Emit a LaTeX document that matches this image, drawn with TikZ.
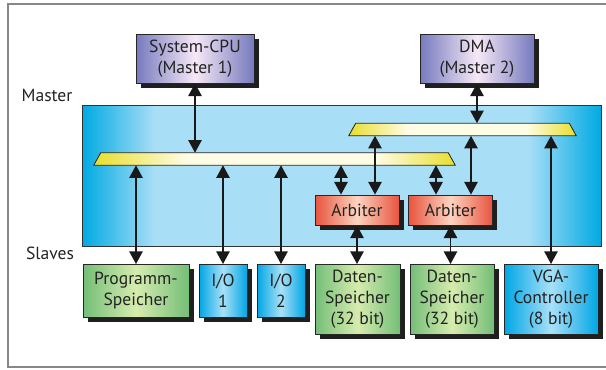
\documentclass[tikz,border=0pt]{standalone}
\usepackage{fontspec}
\setmainfont{PT Sans}
\usepackage{xcolor}
\definecolor{txtgray}{RGB}{35,35,35}
\definecolor{framegray}{RGB}{135,135,135}
\definecolor{panelblue}{RGB}{0,170,226}
\definecolor{panellight}{RGB}{168,222,246}
\definecolor{cpuedge}{RGB}{118,122,190}
\definecolor{cpumid}{RGB}{246,232,246}
\definecolor{memedge}{RGB}{116,190,120}
\definecolor{memmid}{RGB}{214,236,174}
\definecolor{ioedge}{RGB}{0,166,228}
\definecolor{iomid}{RGB}{168,224,248}
\definecolor{arbedge}{RGB}{232,84,62}
\definecolor{arbmid}{RGB}{252,212,192}
\definecolor{busedge}{RGB}{232,222,45}
\definecolor{busmid}{RGB}{255,252,230}
\usepackage{tikz}
\usetikzlibrary{arrows.meta, positioning}

\pgfdeclarehorizontalshading{panelshade}{100bp}{color(0bp)=(panelblue); color(25bp)=(panelblue); color(32bp)=(panellight); color(68bp)=(panellight); color(75bp)=(panelblue); color(100bp)=(panelblue)}
\pgfdeclarehorizontalshading{busshade}{100bp}{color(0bp)=(busedge); color(25bp)=(busedge); color(38bp)=(busmid); color(64bp)=(busmid); color(75bp)=(busedge); color(100bp)=(busedge)}
\pgfdeclarehorizontalshading{cpushade}{100bp}{color(0bp)=(cpuedge); color(25bp)=(cpuedge); color(50bp)=(cpumid); color(75bp)=(cpuedge); color(100bp)=(cpuedge)}
\pgfdeclarehorizontalshading{memshade}{100bp}{color(0bp)=(memedge); color(25bp)=(memedge); color(50bp)=(memmid); color(75bp)=(memedge); color(100bp)=(memedge)}
\pgfdeclarehorizontalshading{ioshade}{100bp}{color(0bp)=(ioedge); color(25bp)=(ioedge); color(50bp)=(iomid); color(75bp)=(ioedge); color(100bp)=(ioedge)}
\pgfdeclarehorizontalshading{arbshade}{100bp}{color(0bp)=(arbedge); color(25bp)=(arbedge); color(50bp)=(arbmid); color(75bp)=(arbedge); color(100bp)=(arbedge)}

\tikzset{
  box/.style={draw=black!85, line width=0.6pt, align=center, text=txtgray,
    font=\fontsize{12.5}{15}\selectfont, inner sep=0pt, shade,
    preaction={fill=black!88, transform canvas={xshift=3.5pt, yshift=-3.5pt}}},
  masterbox/.style={box, shading=cpushade},
  membox/.style={box, shading=memshade},
  iobox/.style={box, shading=ioshade},
  arbbox/.style={box, shading=arbshade},
  bus/.style={rectangle, inner sep=0pt, minimum height=0.3cm},
  busbar/.style={shading=busshade, draw=black!85, line width=0.6pt},
  lbl/.style={text=txtgray, font=\fontsize{12.5}{14}\selectfont},
  link/.style={{Triangle[width=9.5pt,length=9pt]}-{Triangle[width=9.5pt,length=9pt]},
    line width=1.1pt, black!90},
}

\begin{document}
\begin{tikzpicture}
  \useasboundingbox (0,0) rectangle (15.15,9.225);
  % Frame (open to the right)
  \draw[framegray, line width=1pt] (15.15,9.125) -- (0.2,9.125) -- (0.2,0.05) -- (15.15,0.05);

  % Bus panel
  \shadedraw[shading=panelshade, draw=black!80, line width=0.6pt] (2.05,3.075) rectangle (15.025,6.6);
  \node[lbl] (master) at (1.175,6.85) {Master};
  \node[lbl] (slaves) at (1.25,2.9) {Slaves};

  % --- Masters ---
  \node[masterbox, minimum width=2.95cm, minimum height=1.225cm] (cpu) at (4.875,7.7625) {System-CPU\\(Master 1)};
  \node[masterbox, minimum width=2.85cm, minimum height=1.225cm] (dma) at (11.925,7.7625) {DMA\\(Master 2)};

  % --- Buses ---
  \node[bus, minimum width=9.025cm] (bus1) at (6.8625,5.25) {};
  \node[bus, minimum width=5.675cm] (bus2) at (11.5625,5.9875) {};
  \shadedraw[busbar] (bus1.south west) -- ([xshift=0.175cm]bus1.north west)
    -- ([xshift=-0.175cm]bus1.north east) -- (bus1.south east) -- cycle;
  \shadedraw[busbar] (bus2.south west) -- ([xshift=0.175cm]bus2.north west)
    -- ([xshift=-0.175cm]bus2.north east) -- (bus2.south east) -- cycle;

  % --- Arbiters ---
  \node[arbbox, minimum width=2.1cm, minimum height=0.75cm] (arb1) at (8.925,3.975) {Arbiter};
  \node[arbbox, minimum width=2.1cm, minimum height=0.75cm] (arb2) at (11.2625,3.975) {Arbiter};

  % --- Slaves ---
  \node[membox, anchor=north, minimum width=2.65cm, minimum height=1.325cm] (prog) at (3.4,2.625) {Programm-\\Speicher};
  \node[iobox, anchor=north, minimum width=1.2cm, minimum height=1.325cm] (io1) at (5.575,2.625) {I/O\\1};
  \node[iobox, anchor=north, minimum width=1.2cm, minimum height=1.325cm] (io2) at (7.025,2.625) {I/O\\2};
  \node[membox, anchor=north, minimum width=2.125cm, minimum height=1.75cm] (dat1) at (8.9375,2.625) {Daten-\\Speicher\\(32 bit)};
  \node[membox, anchor=north, minimum width=2.1cm, minimum height=1.75cm] (dat2) at (11.3,2.625) {Daten-\\Speicher\\(32 bit)};
  \node[iobox, anchor=north, minimum width=2.35cm, minimum height=1.75cm] (vga) at (13.775,2.625) {VGA-\\Controller\\(8 bit)};

  % arbiter ports
  \coordinate (a1l) at (8.525,0);
  \coordinate (a1r) at (9.375,0);
  \coordinate (a2l) at (10.9,0);
  \coordinate (a2r) at (11.775,0);

  % --- Connections ---
  \draw[link] (cpu.south) -- (cpu.south |- bus1.north);
  \draw[link] (dma.south) -- (dma.south |- bus2.north);
  \draw[link] (prog.north |- bus1.south) -- (prog.north);
  \draw[link] (io1.north |- bus1.south) -- (io1.north);
  \draw[link] (io2.north |- bus1.south) -- (io2.north);
  \draw[link] (a1l |- bus1.south) -- (a1l |- arb1.north);
  \draw[link] (a2l |- bus1.south) -- (a2l |- arb2.north);
  \draw[link] (a1r |- bus2.south) -- (a1r |- arb1.north);
  \draw[link] (a2r |- bus2.south) -- (a2r |- arb2.north);
  \draw[link] (vga.north |- bus2.south) -- (vga.north);
  \draw[link] (arb1.south) -- (arb1.south |- dat1.north);
  \draw[link] (arb2.south) -- (arb2.south |- dat2.north);
\end{tikzpicture}
\end{document}
